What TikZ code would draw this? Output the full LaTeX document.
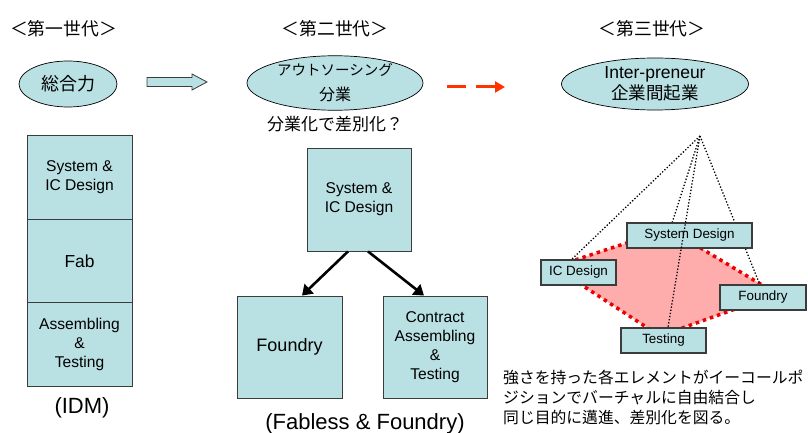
\documentclass[tikz,border=0pt]{standalone}
\usepackage{fontspec}
\setmainfont{Liberation Sans}
\newfontfamily\jp{Noto Sans CJK JP}
\usetikzlibrary{shapes.geometric,arrows.meta,calc}
\definecolor{boxfill}{RGB}{185,224,227}
\definecolor{boxline}{RGB}{60,60,60}
\definecolor{zonefill}{RGB}{255,172,172}
\definecolor{zoneline}{RGB}{235,0,0}
\definecolor{flowred}{RGB}{255,51,0}
\begin{document}
\begin{tikzpicture}[x=1pt,y=-1pt,
  cell/.style={draw=boxline, line width=0.9pt, fill=boxfill, inner sep=0pt,
    align=center, font=\fontsize{15.6}{19}\selectfont},
  tag/.style={draw=boxline, line width=1.3pt, fill=boxfill, inner sep=0pt,
    minimum height=25pt, font=\fontsize{13.4}{16}\selectfont},
  bubble/.style={ellipse, draw=black, line width=0.7pt, fill=boxfill,
    inner sep=0pt, align=center},
  era/.style={font=\jp\fontsize{17.8}{20}\selectfont},
  split/.style={line width=2.6pt, -{Triangle[length=10pt,width=13pt]}},
  tie/.style={line width=1.3pt, dash pattern=on 1.3pt off 1.9pt}
]
\useasboundingbox (0,0) rectangle (808,433);

% generation headings
\node[era] (g1) at (63.5,29) {＜第一世代＞};
\node[era] (g2) at (335,29) {＜第二世代＞};
\node[era] (g3) at (652,29) {＜第三世代＞};

% generation concepts
\node[bubble, minimum width=98pt, minimum height=46pt,
  font=\jp\fontsize{18}{20}\selectfont] (c1) at (68,84) {総合力};
\node[bubble, minimum width=176pt, minimum height=54pt,
  font=\jp\fontsize{14.5}{25}\selectfont] (c2) at (335,83)
  {アウトソーシング\\{\fontsize{16}{25}\selectfont 分業}};
\node[bubble, minimum width=187pt, minimum height=52pt,
  font=\fontsize{17.5}{21.5}\selectfont] (c3) at (655,84)
  {Inter-preneur\\{\jp 企業間起業}};
\node[font=\jp\fontsize{17}{20}\selectfont] (q2) at (335,124) {分業化で差別化？};

% block arrow between first and second generation
\draw[draw=boxline, line width=0.8pt, fill=boxfill]
  (147,77.5) -- (192,77.5) -- (192,74) -- (207,82) -- (192,90)
  -- (192,86.5) -- (147,86.5) -- cycle;

% dashed arrow towards the third generation
\coordinate (fa) at (447,87);
\coordinate (fb) at (505,87);
\draw[flowred, line width=3pt, dash pattern=on 19pt off 10pt,
  -{Triangle[length=10pt,width=11pt]}] (fa) -- (fb);

% IDM stack
\node[cell, minimum width=105pt, minimum height=83.5pt] (s1) at (79.5,177.5) {System \&\\IC Design};
\node[cell, minimum width=105pt, minimum height=83.5pt,
  font=\fontsize{17.4}{20}\selectfont] (s2) at (79.5,261) {Fab};
\node[cell, minimum width=105pt, minimum height=83.5pt] (s3) at (79.5,344.5) {Assembling\\\&\\Testing};
\node[font=\fontsize{22}{24}\selectfont] (idm) at (82,408) {(IDM)};

% fabless and foundry
\node[cell, minimum width=104pt, minimum height=103pt] (m1) at (359,199.5) {System \&\\IC Design};
\node[cell, minimum width=105pt, minimum height=102pt,
  font=\fontsize{18}{20}\selectfont] (m2) at (289.5,347) {Foundry};
\node[cell, minimum width=104pt, minimum height=102pt] (m3) at (435,347) {Contract\\Assembling\\\&\\Testing};
\draw[split] ($(m1.south)+(-11,0)$) -- ($(m2.north)+(12.5,0)$);
\draw[split] ($(m1.south)+(9,0)$) -- ($(m3.north)+(-11,0)$);
\node[font=\fontsize{22}{24}\selectfont] (fab) at (365,423.5) {(Fabless \& Foundry)};

% virtual combination of elements
\coordinate (apex) at (700,136);
\coordinate (z1) at (554,267);
\coordinate (z2) at (669,229);
\coordinate (z3) at (777,294);
\coordinate (z4) at (660,336);
\draw[fill=zonefill, draw=zoneline, line width=3.5pt, dash pattern=on 3.5pt off 4pt]
  (z1) -- (z2) -- (z3) -- (z4) -- cycle;

\coordinate (t1) at (571,260);
\coordinate (t2) at (672,223);
\coordinate (t3) at (760,285);
\draw[tie] (apex) -- (t1);
\draw[tie] (apex) -- (t2);
\draw[tie] (apex) -- (t3);

\node[tag, minimum width=125pt] (rs) at (689.5,235.5) {System Design};
\node[tag, minimum width=75pt] (ri) at (578.5,272.5) {IC Design};
\node[tag, minimum width=86pt] (rf) at (763,297.5) {Foundry};
\node[tag, minimum width=85pt] (rt) at (663.5,340.5) {Testing};
\draw[tie] (apex) -- ($(rt.north)+(4.5,0)$);

\node[anchor=west, align=left, inner sep=0pt,
  font=\jp\fontsize{15.8}{20}\selectfont] (note) at (503,397)
  {強さを持った各エレメントがイーコールポ\\ジションでバーチャルに自由結合し\\同じ目的に邁進、差別化を図る。};
\end{tikzpicture}
\end{document}
